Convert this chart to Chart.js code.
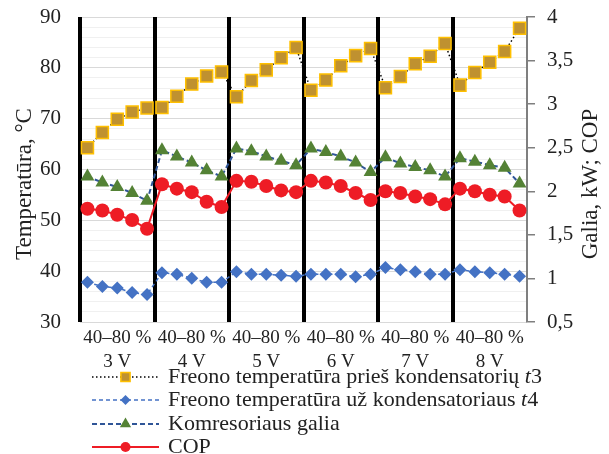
<!DOCTYPE html>
<html>
<head>
<meta charset="utf-8">
<script src="https://cdn.jsdelivr.net/npm/chart.js@4.4.1/dist/chart.umd.min.js"></script>
<style>body{margin:0;background:#fff}</style>
</head>
<body>
<canvas id="chart" width="609" height="454"></canvas>
<script>
// Duomenys
const groups = ['3 V', '4 V', '5 V', '6 V', '7 V', '8 V'];
const rangeLabel = '40–80 %';
const pointsPerGroup = 5;

// t3, °C (kairė ašis)
const t3 = [64.3, 67.3, 69.9, 71.3, 72.1,  72.2, 74.4, 76.8, 78.4, 79.2,  74.3, 77.5, 79.6, 82.0, 84.0,
            75.6, 77.6, 80.4, 82.4, 83.8,  76.1, 78.3, 80.8, 82.3, 84.8,  76.6, 79.1, 81.1, 83.2, 87.8];
// t4, °C (kairė ašis)
const t4 = [37.8, 37.0, 36.7, 35.8, 35.4,  39.7, 39.4, 38.6, 37.8, 37.8,  39.9, 39.4, 39.4, 39.2, 39.0,
            39.4, 39.4, 39.4, 38.9, 39.4,  40.7, 40.3, 39.9, 39.4, 39.4,  40.3, 39.9, 39.7, 39.4, 39.0];
// galia, kW (dešinė ašis)
const power = [2.17, 2.10, 2.05, 1.98, 1.89,  2.47, 2.40, 2.33, 2.24, 2.17,  2.49, 2.46, 2.40, 2.35, 2.30,
               2.49, 2.45, 2.40, 2.33, 2.22,  2.39, 2.32, 2.28, 2.24, 2.17,  2.38, 2.34, 2.30, 2.27, 2.09];
// COP (dešinė ašis)
const cop = [1.80, 1.78, 1.73, 1.67, 1.57,  2.08, 2.03, 1.99, 1.88, 1.82,  2.12, 2.11, 2.06, 2.01, 1.99,
             2.12, 2.10, 2.06, 1.98, 1.90,  2.00, 1.98, 1.94, 1.91, 1.85,  2.03, 2.00, 1.96, 1.94, 1.78];

const seriesNames = [
    'Freono temperatūra prieš kondensatorių t3',
    'Freono temperatūra už kondensatoriaus t4',
    'Komresoriaus galia',
    'COP'
];
const leftTitle = 'Temperatūra, °C';
const rightTitle = 'Galia, kW; COP';

const serif = "'Liberation Serif', 'Times New Roman', serif";
const textColor = '#222';

// 30 kategorijų, užrašas tik po vidurine grupės reikšme
const labels = [];
groups.forEach(g => {
    for (let i = 0; i < pointsPerGroup; i++) labels.push(i === 2 ? [rangeLabel, g] : '');
});

// ašių pavadinimai ir legenda (linija + žymeklis)
const legendRows = [377, 400, 424, 447];
const legendMarkerRadius = [6.5, 5, 6.5, 5];
const extras = {
    id: 'extras',
    afterDraw(chart) {
        const ctx = chart.ctx;
        ctx.save();
        ctx.fillStyle = textColor;
        ctx.font = '23px ' + serif;
        ctx.textAlign = 'center';
        ctx.textBaseline = 'middle';
        [[25, leftTitle], [591, rightTitle]].forEach(([x, text]) => {
            ctx.save();
            ctx.translate(x, 184);
            ctx.rotate(-Math.PI / 2);
            ctx.fillText(text, 0, 0);
            ctx.restore();
        });

        chart.data.datasets.forEach((ds, i) => {
            const y = legendRows[i];
            ctx.strokeStyle = ds.borderColor;
            ctx.lineWidth = ds.borderWidth;
            ctx.setLineDash(ds.borderDash || []);
            ctx.beginPath();
            ctx.moveTo(92, y);
            ctx.lineTo(159, y);
            ctx.stroke();
            ctx.setLineDash([]);

            ctx.fillStyle = ds.pointBackgroundColor;
            ctx.strokeStyle = ds.pointBorderColor;
            ctx.lineWidth = ds.pointBorderWidth;
            Chart.helpers.drawPoint(ctx, {
                pointStyle: ds.pointStyle, radius: legendMarkerRadius[i],
                borderWidth: ds.pointBorderWidth, rotation: 0
            }, 125.5, y);

            // tekstas, t kursyvu
            ctx.fillStyle = textColor;
            ctx.textAlign = 'left';
            let x = 168;
            const m = ds.label.match(/^(.*) t(\d)$/);
            const parts = m ? [[m[1] + ' ', false], ['t', true], [m[2], false]] : [[ds.label, false]];
            parts.forEach(([str, italic]) => {
                ctx.font = (italic ? 'italic ' : '') + '22px ' + serif;
                ctx.fillText(str, x, y);
                x += ctx.measureText(str).width;
            });
        });
        ctx.restore();
    }
};

new Chart(document.getElementById('chart'), {
    type: 'line',
    data: {
        labels: labels,
        datasets: [
            {
                label: seriesNames[0], data: t3, yAxisID: 'y',
                borderColor: '#000', borderWidth: 1.5, borderDash: [1.5, 2.5],
                pointStyle: 'rect', pointRadius: 8.5,
                pointBackgroundColor: '#BF9130', pointBorderColor: '#FFC000', pointBorderWidth: 1.5
            },
            {
                label: seriesNames[1], data: t4, yAxisID: 'y',
                borderColor: '#4472C4', borderWidth: 1.5, borderDash: [4, 3],
                pointStyle: 'rectRot', pointRadius: 6.5,
                pointBackgroundColor: '#4472C4', pointBorderColor: '#4472C4', pointBorderWidth: 0
            },
            {
                label: seriesNames[2], data: power, yAxisID: 'y1',
                borderColor: '#2F5597', borderWidth: 2, borderDash: [5, 3],
                pointStyle: 'triangle', pointRadius: 8,
                pointBackgroundColor: '#548235', pointBorderColor: '#548235', pointBorderWidth: 0
            },
            {
                label: seriesNames[3], data: cop, yAxisID: 'y1',
                borderColor: '#EE1C25', borderWidth: 2,
                pointStyle: 'circle', pointRadius: 7,
                pointBackgroundColor: '#EE1C25', pointBorderColor: '#EE1C25', pointBorderWidth: 0
            }
        ]
    },
    options: {
        responsive: false,
        animation: false,
        layout: { padding: { top: 17, bottom: 72, left: 0, right: 0 } },
        plugins: { legend: { display: false }, tooltip: { enabled: false } },
        scales: {
            x: {
                offset: true,
                grid: {
                    offset: true, drawTicks: false, lineWidth: 4,
                    color: c => (c.index !== undefined && c.index % pointsPerGroup === 0) ? '#000' : 'rgba(0,0,0,0)'
                },
                border: { display: false },
                ticks: {
                    autoSkip: false, maxRotation: 0, minRotation: 0, padding: 4,
                    color: textColor, font: { family: serif, size: 19, lineHeight: 1.27 }
                },
                afterFit: s => { s.height = 60; }
            },
            y: {
                position: 'left', min: 30, max: 90,
                grid: {
                    z: -2, tickLength: 19, tickColor: 'rgba(0,0,0,0)',
                    color: c => (c.tick && c.tick.value % 10 === 0) ? '#D9D9D9' : '#F0F0F0'
                },
                border: { display: false },
                ticks: {
                    stepSize: 2, autoSkip: false, padding: 0,
                    callback: v => v % 10 === 0 ? v : '',
                    color: textColor, font: { family: serif, size: 21 }
                },
                afterFit: s => { s.width = 80; }
            },
            y1: {
                position: 'right', min: 0.5, max: 4,
                grid: {
                    drawOnChartArea: false, tickLength: 20, tickBorderDash: [7, 40],
                    color: '#7F7F7F', lineWidth: 1.5
                },
                border: { color: '#7F7F7F', width: 2 },
                ticks: {
                    stepSize: 0.5, padding: 0,
                    callback: v => String(v).replace('.', ','),
                    color: textColor, font: { family: serif, size: 21 }
                },
                afterFit: s => { s.width = 82; }
            }
        }
    },
    plugins: [extras]
});
</script>
</body>
</html>
